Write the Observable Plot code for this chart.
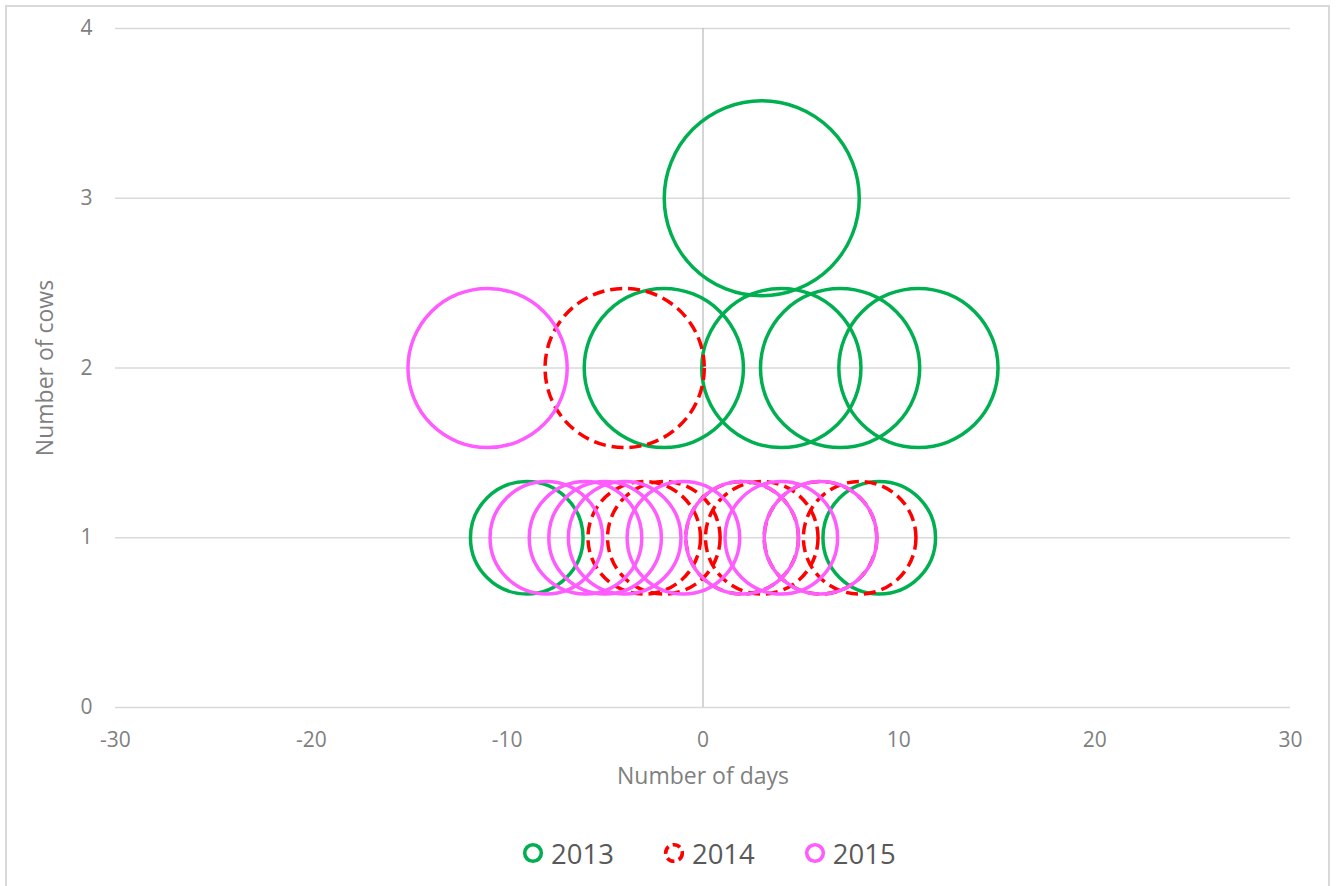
<!DOCTYPE html>
<html>
<head>
<meta charset="utf-8">
<script src="https://cdn.jsdelivr.net/npm/d3@7"></script>
<script src="https://cdn.jsdelivr.net/npm/@observablehq/plot@0.6"></script>
<style>
  body { margin: 0; background: #fff; font-family: "Open Sans", sans-serif; }
  #frame { position: absolute; left: 5px; top: 5px; width: 1325px; height: 900px; border: 2px solid #D9D9D9; box-sizing: border-box; }
  #chart { position: absolute; left: 0; top: 0; }
  #legend { position: absolute; left: 522px; top: 835px; height: 36px; display: flex; align-items: center; font-family: "Open Sans", sans-serif; font-size: 27.5px; color: #595959; }
  .item { display: flex; align-items: center; margin-right: 49px; }
  .item svg { margin-right: 7px; }
</style>
</head>
<body>
<div id="frame"></div>
<div id="chart"></div>
<div id="legend"></div>
<script>
// Series: day offsets and number of cows (bubble size = number of cows)
const years = ["2013", "2014", "2015"];
const colors = ["#00B050", "#FF0000", "#FF5CFF"];
const days2013 = [-9, -2, 3, 4, 7, 9, 11];
const cows2013 = [1, 2, 3, 2, 2, 1, 2];
const days2014 = [-4, -3, -2, 2, 3, 6, 8];
const cows2014 = [2, 1, 1, 1, 1, 1, 1];
const days2015 = [-11, -8, -6, -5, -4, -1, 2, 4, 6];
const cows2015 = [2, 1, 1, 1, 1, 1, 1, 1, 1];
const xTicks = [-30, -20, -10, 0, 10, 20, 30];
const yTicks = [0, 1, 2, 3, 4];
const xTitle = "Number of days";
const yTitle = "Number of cows";

const rows = (days, cows, year) => days.map((d, i) => ({day: d, cows: cows[i], year}));
const s2013 = rows(days2013, cows2013, "2013");
const s2014 = rows(days2014, cows2014, "2014");
const s2015 = rows(days2015, cows2015, "2015");

const chart = Plot.plot({
  width: 1337,
  height: 820,
  marginLeft: 115,
  marginRight: 47,
  marginTop: 28,
  marginBottom: 113,
  x: {domain: [-30, 30], ticks: xTicks, tickFormat: d => String(d), tickSize: 0, tickPadding: 25, label: null},
  y: {domain: [0, 4], ticks: yTicks, tickFormat: d => String(d), tickSize: 0, tickPadding: 23, label: null},
  r: {type: "sqrt", domain: [0, 3], range: [0, 97.5]},
  style: {fontFamily: "Open Sans, sans-serif", fontSize: "21px", color: "#808080", background: "transparent", overflow: "visible"},
  marks: [
    Plot.ruleY(yTicks, {stroke: "#D9D9D9", strokeWidth: 1.3}),
    Plot.ruleX([0], {stroke: "#BFBFBF", strokeWidth: 1.3}),
    Plot.dot(s2013, {x: "day", y: "cows", r: "cows", stroke: colors[0], strokeWidth: 3.5, fill: "none"}),
    Plot.dot(s2014, {x: "day", y: "cows", r: "cows", stroke: colors[1], strokeWidth: 3.5, fill: "none", strokeDasharray: "12,6"}),
    Plot.dot(s2015, {x: "day", y: "cows", r: "cows", stroke: colors[2], strokeWidth: 3.5, fill: "none"}),
    Plot.text([xTitle], {frameAnchor: "bottom", dy: 76, fill: "#7F7F7F", fontSize: 23}),
    Plot.text([yTitle], {frameAnchor: "left", textAnchor: "middle", dx: -70, rotate: -90, fill: "#7F7F7F", fontSize: 23})
  ]
});
document.getElementById("chart").appendChild(chart);

const legend = document.getElementById("legend");
years.forEach((y, i) => {
  const item = document.createElement("div");
  item.className = "item";
  const dash = i === 1 ? ' stroke-dasharray="8,4.5"' : "";
  item.innerHTML = `<svg width="22" height="22"><circle cx="11" cy="11" r="8.3" fill="none" stroke="${colors[i]}" stroke-width="3.6"${dash}/></svg><span>${y}</span>`;
  legend.appendChild(item);
});
</script>
</body>
</html>
